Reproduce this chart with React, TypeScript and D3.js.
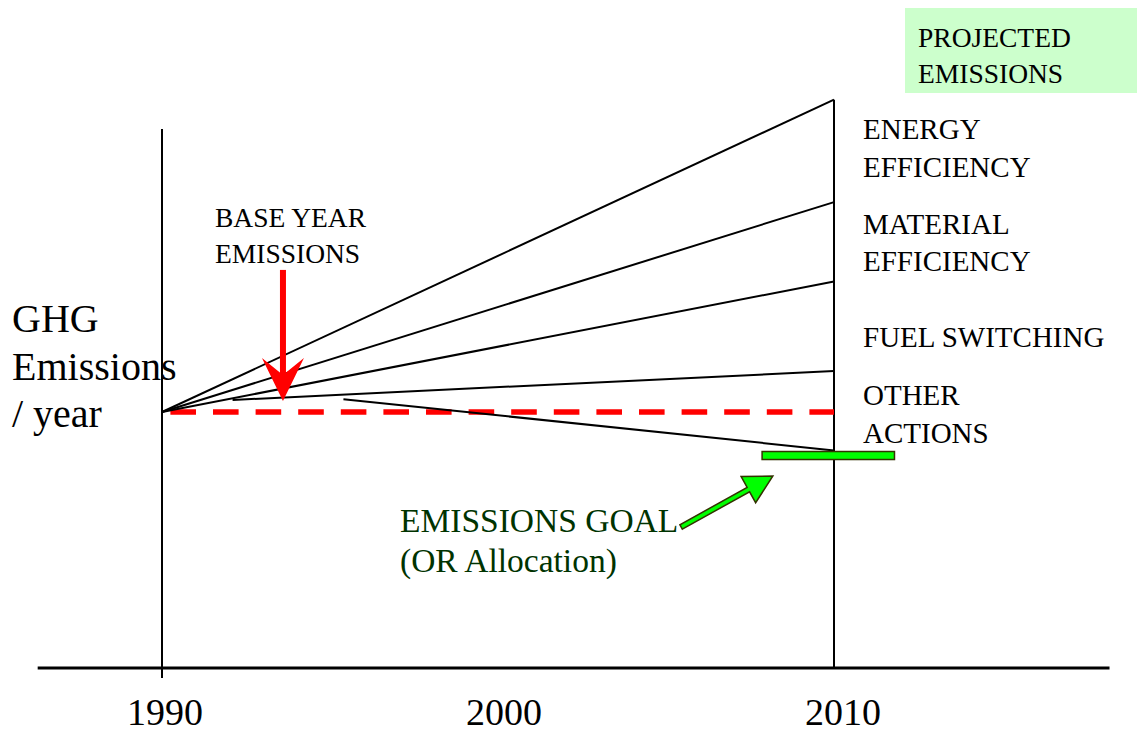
import React, { useRef, useEffect } from 'react';
import * as d3 from 'd3';

// time axis
const tickYears = [1990, 2000, 2010];
const axisYears = [1986.3, 2018.2];
const baseYear = 1990;
const targetYear = 2010;

// emissions, index units (base year = 100)
const baseEmissions = 100;
const wedgeStartYear = [1990, 1990, 1990, 1992.1, 1995.4];
const wedgeStartValue = [100, 100, 100, 104.7, 105];
const wedgeEndValue = [222, 182, 151, 116, 85];
const wedgeLabels = [['ENERGY', 'EFFICIENCY'], ['MATERIAL', 'EFFICIENCY'], ['FUEL SWITCHING'], ['OTHER', 'ACTIONS']];
const wedgeLabelAt = [203, 166, 129, 99];
const goalValue = 83;
const goalYears = [2007.86, 2011.8];

// annotations
const baseArrowYear = 1993.6;
const baseArrowValues = [155.5, 104.3];
const goalArrowFrom = [2005.45, 55.1];
const goalArrowTo = [2008.18, 75];

const FONT = '"Liberation Serif", "Times New Roman", serif';

export default function App() {
  const ref = useRef<SVGSVGElement>(null);

  useEffect(() => {
    const width = 1138;
    const height = 734;
    const x = d3.scaleLinear().domain([baseYear, targetYear]).range([162, 834]);
    const y = d3.scaleLinear().domain([0, baseEmissions]).range([668, 412]);

    const svg = d3.select(ref.current);
    svg.selectAll('*').remove();
    svg.attr('width', width).attr('height', height);

    const g = svg.append('g').attr('font-family', FONT);

    // projected emissions box
    g.append('rect')
      .attr('x', 905).attr('y', 8)
      .attr('width', 232).attr('height', 85)
      .attr('fill', '#ccffcc');
    g.append('text')
      .attr('x', 918).attr('y', 47)
      .attr('font-size', 27.5)
      .selectAll('tspan')
      .data(['PROJECTED', 'EMISSIONS'])
      .enter()
      .append('tspan')
      .attr('x', 918)
      .attr('dy', (d, i) => (i === 0 ? 0 : 35.5))
      .text(d => d);

    // axes
    g.append('line')
      .attr('x1', x(axisYears[0])).attr('x2', x(axisYears[1]))
      .attr('y1', y(0)).attr('y2', y(0))
      .attr('stroke', '#000').attr('stroke-width', 3);
    g.append('line')
      .attr('x1', x(baseYear)).attr('x2', x(baseYear))
      .attr('y1', y(210.5)).attr('y2', y(-3.9))
      .attr('stroke', '#000').attr('stroke-width', 2);
    g.append('line')
      .attr('x1', x(targetYear)).attr('x2', x(targetYear))
      .attr('y1', y(d3.max(wedgeEndValue) as number)).attr('y2', y(0))
      .attr('stroke', '#000').attr('stroke-width', 2);

    g.selectAll('.tick')
      .data(tickYears)
      .enter()
      .append('text')
      .attr('class', 'tick')
      .attr('x', (d, i) => x(d) + 3 + i * 3)
      .attr('y', 725)
      .attr('text-anchor', 'middle')
      .attr('font-size', 38)
      .text(d => d);

    // y label
    g.append('text')
      .attr('x', 12).attr('y', 332)
      .attr('font-size', 40)
      .selectAll('tspan')
      .data(['GHG', 'Emissions', '/ year'])
      .enter()
      .append('tspan')
      .attr('x', 12)
      .attr('dy', (d, i) => (i === 0 ? 0 : 47.5))
      .text(d => d);

    // base year dashed line
    g.append('line')
      .attr('x1', x(1990.25)).attr('x2', x(targetYear))
      .attr('y1', y(baseEmissions)).attr('y2', y(baseEmissions))
      .attr('stroke', '#ff0000')
      .attr('stroke-width', 5.5)
      .attr('stroke-dasharray', '25.6 17');

    // projection wedges
    g.append('g')
      .selectAll('line')
      .data(wedgeEndValue)
      .enter()
      .append('line')
      .attr('x1', (d, i) => x(wedgeStartYear[i]))
      .attr('y1', (d, i) => y(wedgeStartValue[i]))
      .attr('x2', x(targetYear))
      .attr('y2', d => y(d))
      .attr('stroke', '#000')
      .attr('stroke-width', 2);

    // wedge labels
    const lineGap = 37.5;
    const cap = 19;
    wedgeLabels.forEach((lines, i) => {
      const cy = y(wedgeLabelAt[i]);
      const first = cy - ((lines.length - 1) * lineGap) / 2 + cap / 2;
      g.append('text')
        .attr('font-size', 29)
        .selectAll('tspan')
        .data(lines)
        .enter()
        .append('tspan')
        .attr('x', 863)
        .attr('y', (d, j) => first + j * lineGap)
        .text(d => d);
    });

    // goal bar
    g.append('rect')
      .attr('x', x(goalYears[0]))
      .attr('y', y(goalValue) - 4)
      .attr('width', x(goalYears[1]) - x(goalYears[0]))
      .attr('height', 8)
      .attr('fill', '#00ff00')
      .attr('stroke', '#333300')
      .attr('stroke-width', 1.5);

    // base year arrow
    const ax = x(baseArrowYear);
    const tail = y(baseArrowValues[0]);
    const tip = y(baseArrowValues[1]);
    g.append('rect')
      .attr('x', ax - 3).attr('y', tail)
      .attr('width', 6).attr('height', tip - 24 - tail)
      .attr('fill', '#ff0000');
    g.append('path')
      .attr('d', `M${ax},${tip} L${ax - 21},${tip - 43} L${ax},${tip - 26} L${ax + 21},${tip - 43} Z`)
      .attr('fill', '#ff0000');

    g.append('text')
      .attr('x', 215).attr('y', 227)
      .attr('font-size', 27.5)
      .selectAll('tspan')
      .data(['BASE YEAR', 'EMISSIONS'])
      .enter()
      .append('tspan')
      .attr('x', 215)
      .attr('dy', (d, i) => (i === 0 ? 0 : 35.5))
      .text(d => d);

    // goal arrow
    const p0: [number, number] = [x(goalArrowFrom[0]), y(goalArrowFrom[1])];
    const p1: [number, number] = [x(goalArrowTo[0]), y(goalArrowTo[1])];
    const dx = p1[0] - p0[0];
    const dy = p1[1] - p0[1];
    const len = Math.hypot(dx, dy);
    const ux = dx / len, uy = dy / len;
    const nx = -uy, ny = ux;
    const headLen = 28, headW = 15, shaftW = 2.5;
    const bx = p1[0] - ux * headLen, by = p1[1] - uy * headLen;
    const pts: [number, number][] = [
      [p0[0] + nx * shaftW, p0[1] + ny * shaftW],
      [bx + nx * shaftW, by + ny * shaftW],
      [bx + nx * headW, by + ny * headW],
      p1,
      [bx - nx * headW, by - ny * headW],
      [bx - nx * shaftW, by - ny * shaftW],
      [p0[0] - nx * shaftW, p0[1] - ny * shaftW],
    ];
    g.append('path')
      .attr('d', d3.line()(pts) + 'Z')
      .attr('fill', '#00ff00')
      .attr('stroke', '#333300')
      .attr('stroke-width', 1.5)
      .attr('stroke-linejoin', 'miter');

    g.append('text')
      .attr('x', 400).attr('y', 532)
      .attr('font-size', 33.5)
      .attr('fill', '#003300')
      .selectAll('tspan')
      .data(['EMISSIONS GOAL', '(OR Allocation)'])
      .enter()
      .append('tspan')
      .attr('x', 400)
      .attr('dy', (d, i) => (i === 0 ? 0 : 40))
      .text(d => d);
  }, []);

  return (
    <svg
      ref={ref}
      style={{ position: 'absolute', left: 0, top: 0, display: 'block', background: '#fff' }}
    />
  );
}
